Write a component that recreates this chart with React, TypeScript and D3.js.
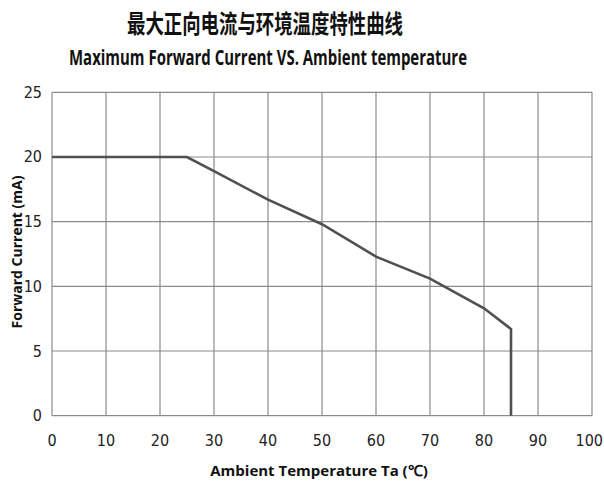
import React from "react";
import * as d3 from "d3";

const temps = [0, 25, 30, 40, 50, 60, 70, 80, 85, 85];
const currents = [20, 20, 18.9, 16.7, 14.8, 12.3, 10.6, 8.3, 6.7, 0];
const xTicks = [0, 10, 20, 30, 40, 50, 60, 70, 80, 90, 100];
const yTicks = [0, 5, 10, 15, 20, 25];
const titleCn = "最大正向电流与环境温度特性曲线";
const titleEn = "Maximum Forward Current VS. Ambient temperature";
const xTitle = "Ambient  Temperature  Ta (℃)";
const yTitle = "Forward Current (mA)";

export default function App() {
  const W = 604, H = 484;
  const x = d3.scaleLinear().domain([0, 100]).range([52, 592]);
  const y = d3.scaleLinear().domain([0, 25]).range([415.7, 92.3]);
  const pts: [number, number][] = temps.map((t, i) => [t, currents[i]]);
  const line = d3.line<[number, number]>().x(d => x(d[0])).y(d => y(d[1]));
  const tickFont = "'Liberation Sans Narrow', 'DejaVu Sans Condensed', sans-serif";
  return (
    <svg width={W} height={H} style={{ position: "absolute", left: 0, top: 0, background: "#fff" }}>
      <rect x={0} y={0} width={W} height={H} fill="#fff" />
      <text x={265} y={33} textAnchor="middle" fontFamily="'Noto Sans CJK SC', sans-serif" fontSize={25} fontWeight={700} fill="#111" textLength={276} lengthAdjust="spacingAndGlyphs">{titleCn}</text>
      <text x={268} y={65} textAnchor="middle" fontFamily="'Open Sans', sans-serif" fontSize={21} fontWeight={700} fill="#111" textLength={398} lengthAdjust="spacingAndGlyphs">{titleEn}</text>
      {xTicks.map(t => (
        <line key={"gx" + t} x1={x(t)} x2={x(t)} y1={y(0)} y2={y(25)} stroke="#8a8a8a" strokeWidth={1.2} />
      ))}
      {yTicks.map(t => (
        <line key={"gy" + t} x1={x(0)} x2={x(100)} y1={y(t)} y2={y(t)} stroke="#8a8a8a" strokeWidth={1.2} />
      ))}
      <path d={line(pts) || ""} fill="none" stroke="#505050" strokeWidth={2.6} strokeLinejoin="miter" />
      {yTicks.map(t => (
        <text key={"ty" + t} x={42} y={y(t) + 5.5} textAnchor="end" fontFamily={tickFont} fontSize={16} fill="#222">{t}</text>
      ))}
      {xTicks.map(t => (
        <text key={"tx" + t} x={t === 100 ? 603 : x(t)} y={446} textAnchor={t === 100 ? "end" : "middle"} fontFamily={tickFont} fontSize={16} fill="#222">{t}</text>
      ))}
      <text x={319} y={476} textAnchor="middle" fontFamily="'Open Sans', sans-serif" fontSize={15} fontWeight={700} fill="#111">{xTitle}</text>
      <text transform={`translate(22,252) rotate(-90)`} textAnchor="middle" fontFamily="'Open Sans', sans-serif" fontSize={14} fontWeight={700} fill="#111">{yTitle}</text>
    </svg>
  );
}
